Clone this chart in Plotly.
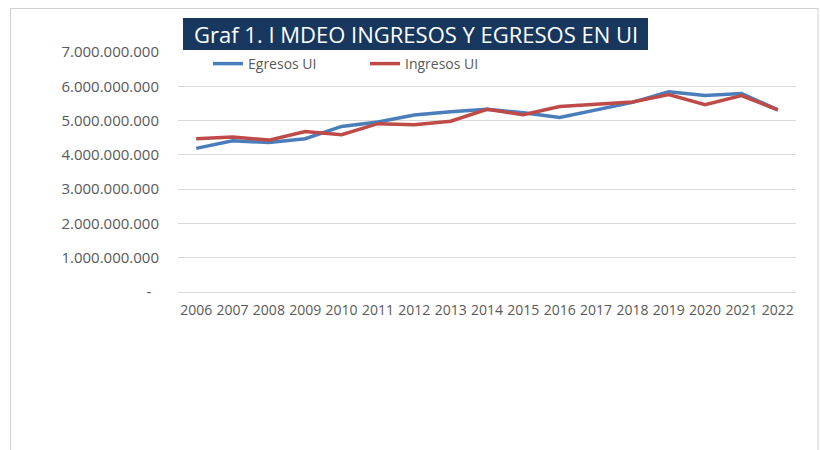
import plotly.graph_objects as go

years = [str(y) for y in range(2006, 2023)]
egresos = [4.19e9, 4.41e9, 4.36e9, 4.47e9, 4.83e9, 4.96e9, 5.16e9, 5.26e9, 5.33e9,
           5.23e9, 5.09e9, 5.32e9, 5.53e9, 5.84e9, 5.73e9, 5.79e9, 5.31e9]
ingresos = [4.47e9, 4.52e9, 4.43e9, 4.68e9, 4.59e9, 4.91e9, 4.88e9, 4.98e9, 5.33e9,
            5.17e9, 5.41e9, 5.47e9, 5.54e9, 5.76e9, 5.46e9, 5.73e9, 5.31e9]
tick_vals = [0, 1e9, 2e9, 3e9, 4e9, 5e9, 6e9, 7e9]
tick_text = ["-\u00a0\u00a0", "1.000.000.000", "2.000.000.000", "3.000.000.000",
             "4.000.000.000", "5.000.000.000", "6.000.000.000", "7.000.000.000"]
title_text = "Graf 1. I MDEO INGRESOS Y EGRESOS EN UI"

W, H = 820, 450
L, R, T, B = 178, 24, 52, 158
pw, ph = W - L - R, H - T - B

def px(x):
    return (x - L) / pw

def py(y):
    return (H - B - y) / ph

fig = go.Figure()
fig.add_trace(go.Scatter(x=years, y=egresos, mode="lines", name="Egresos UI",
                         line=dict(color="#4a7ebb", width=3.5)))
fig.add_trace(go.Scatter(x=years, y=ingresos, mode="lines", name="Ingresos UI",
                         line=dict(color="#be4b48", width=3.5)))

fig.update_layout(
    width=W, height=H,
    margin=dict(l=L, r=R, t=T, b=B),
    paper_bgcolor="white", plot_bgcolor="white",
    font=dict(family="Open Sans", color="#595959", size=14),
    showlegend=True,
    legend=dict(orientation="h", x=px(208), y=py(64), xanchor="left", yanchor="middle",
                entrywidth=112, entrywidthmode="pixels",
                font=dict(size=14, color="#595959"), bgcolor="rgba(0,0,0,0)"),
    xaxis=dict(type="category", range=[-0.5, len(years) - 0.5], showgrid=False,
               showline=False, ticks="",
               tickfont=dict(size=14, color="#595959"), ticklabelstandoff=8),
    yaxis=dict(range=[0, 7e9], tickvals=tick_vals, ticktext=tick_text,
               showgrid=True, gridcolor="#d9d9d9", gridwidth=1, zeroline=True,
               zerolinecolor="#d9d9d9", zerolinewidth=1, showline=False, ticks="",
               tickfont=dict(size=15, color="#595959"), ticklabelstandoff=18),
    shapes=[
        dict(type="rect", xref="paper", yref="paper", x0=px(10.5), x1=px(818),
             y0=py(470), y1=py(8.5), line=dict(color="#d0d0d0", width=1),
             fillcolor="rgba(0,0,0,0)", layer="below"),
        dict(type="rect", xref="paper", yref="paper", x0=px(183), x1=px(648),
             y0=py(50), y1=py(18), line=dict(width=0), fillcolor="#17375e"),
    ],
    annotations=[
        dict(text=title_text, xref="paper", yref="paper", x=px(415.5), y=py(34),
             xanchor="center", yanchor="middle", showarrow=False,
             font=dict(family="Open Sans", size=22, color="white")),
    ],
)

fig.write_html("out.html", config={"displayModeBar": False},
               post_script="document.body.style.margin='0px';")
